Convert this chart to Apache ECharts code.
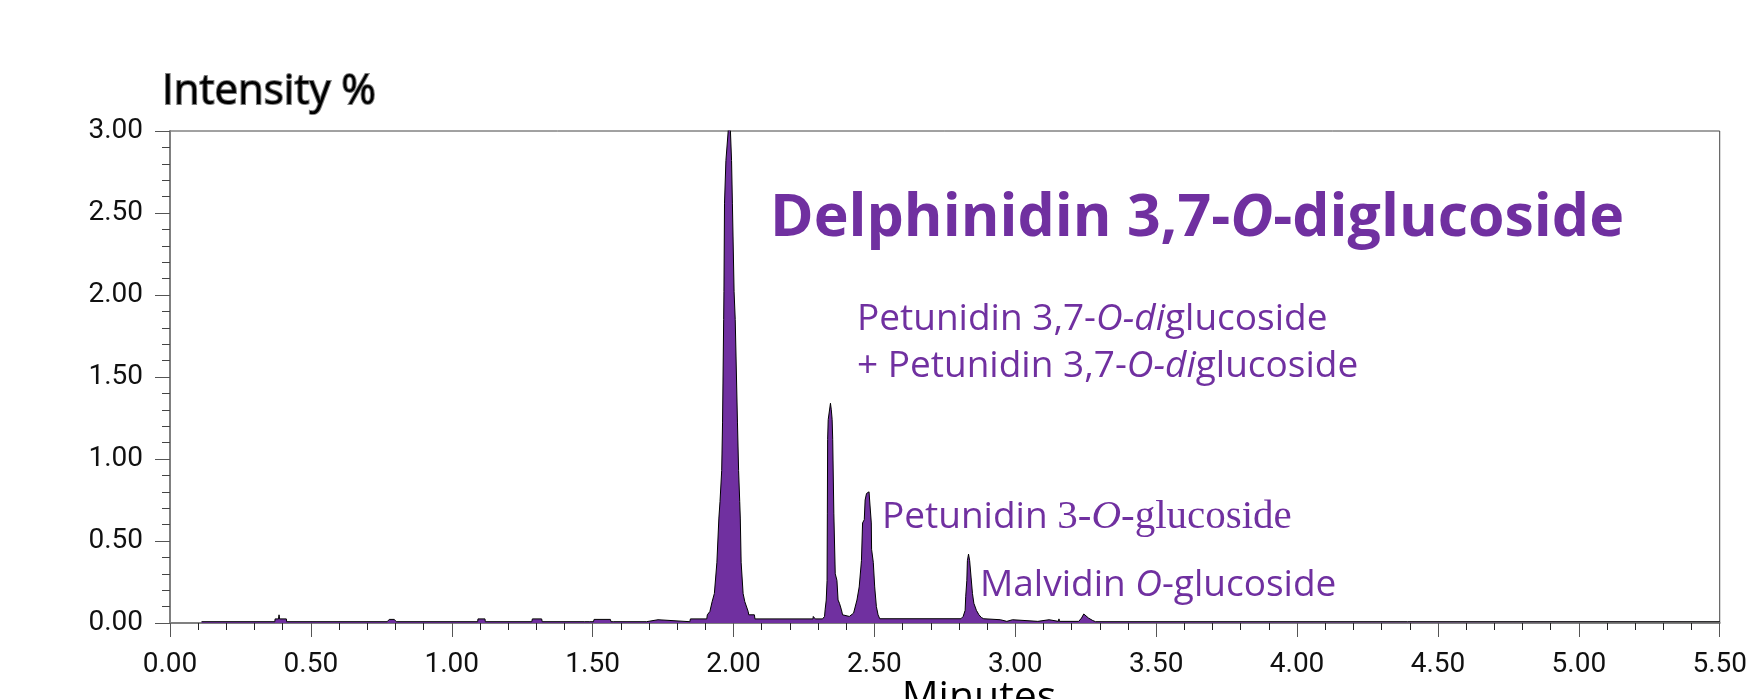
<!DOCTYPE html>
<html>
<head>
<meta charset="utf-8">
<title>Delphinidin 3,7-O-diglucoside chromatogram</title>
<script src="https://cdn.jsdelivr.net/npm/echarts@6.0.0/dist/echarts.min.js"></script>
<style>
  html, body { margin: 0; padding: 0; background: #fff; }
  #main { width: 1750px; height: 699px; }
</style>
</head>
<body>
<div id="main"></div>
<script>
// chromatogram trace: minutes / intensity %
const retentionTime = [
  0.112, 0.372, 0.373, 0.385, 0.387, 0.389, 0.413, 0.414,
  0.771, 0.778, 0.796, 0.803,
  1.092, 1.093, 1.118, 1.119, 1.123, 1.125,
  1.284, 1.286, 1.319, 1.321,
  1.472, 1.473, 1.475, 1.490, 1.491, 1.493, 1.503, 1.505, 1.563, 1.565, 1.570, 1.571, 1.573,
  1.691, 1.695, 1.732, 1.735,
  1.845, 1.847, 1.905, 1.907, 1.916, 1.924, 1.932, 1.941, 1.948, 1.952, 1.958, 1.961,
  1.965, 1.966, 1.968, 1.973, 1.982, 1.987, 1.989, 1.993, 1.996, 2.002, 2.006, 2.014,
  2.018, 2.022, 2.024, 2.027, 2.034, 2.040, 2.052, 2.054, 2.074, 2.076,
  2.282, 2.283, 2.288, 2.290, 2.316,
  2.323, 2.325, 2.329, 2.332, 2.333, 2.334, 2.336, 2.344, 2.347, 2.350, 2.352, 2.356,
  2.361, 2.367, 2.371, 2.376, 2.383, 2.387, 2.391, 2.411, 2.415, 2.426,
  2.438, 2.446, 2.454, 2.458, 2.464, 2.467, 2.472, 2.476, 2.481, 2.483, 2.489, 2.490,
  2.496, 2.501, 2.507, 2.513, 2.519, 2.525,
  2.807, 2.815, 2.822, 2.824, 2.828, 2.830, 2.834, 2.838, 2.843, 2.848, 2.853, 2.862,
  2.871, 2.880, 2.888, 2.947, 2.950,
  2.970, 2.972, 2.990, 2.992, 3.080, 3.082, 3.120, 3.122, 3.153, 3.155, 3.157,
  3.225, 3.235, 3.243, 3.250, 3.260, 3.275, 3.285, 5.500
];
const intensity = [
  0.008, 0.008, 0.025, 0.025, 0.050, 0.025, 0.025, 0.008,
  0.008, 0.022, 0.022, 0.008,
  0.008, 0.025, 0.025, 0.008, 0.020, 0.008,
  0.008, 0.025, 0.025, 0.008,
  0.008, 0.020, 0.008, 0.008, 0.020, 0.008, 0.008, 0.022, 0.022, 0.008, 0.008, 0.020, 0.008,
  0.008, 0.020, 0.020, 0.008,
  0.008, 0.025, 0.025, 0.050, 0.070, 0.130, 0.180, 0.370, 0.640, 0.740, 0.930, 1.220,
  1.850, 2.020, 2.560, 2.820, 3.020, 3.020, 3.000, 2.820, 2.560, 2.020, 1.850, 1.220,
  0.930, 0.740, 0.640, 0.370, 0.180, 0.130, 0.070, 0.050, 0.050, 0.025,
  0.025, 0.040, 0.040, 0.025, 0.025,
  0.040, 0.080, 0.140, 0.260, 0.670, 1.120, 1.240, 1.340, 1.300, 1.240, 1.120, 0.670,
  0.300, 0.260, 0.140, 0.120, 0.080, 0.050, 0.040, 0.040, 0.050, 0.060,
  0.140, 0.220, 0.380, 0.610, 0.630, 0.750, 0.790, 0.800, 0.800, 0.750, 0.610, 0.450,
  0.370, 0.220, 0.100, 0.050, 0.026, 0.020,
  0.026, 0.040, 0.077, 0.160, 0.260, 0.380, 0.420, 0.380, 0.280, 0.180, 0.120, 0.077,
  0.050, 0.033, 0.026, 0.020, 0.010,
  0.010, 0.020, 0.020, 0.010, 0.010, 0.020, 0.020, 0.010, 0.010, 0.025, 0.010,
  0.010, 0.030, 0.055, 0.050, 0.030, 0.015, 0.008, 0.008
];

const xTicks = { min: 0, max: 5.5, step: 0.5 };
const yTicks = { min: 0, max: 3, step: 0.5 };

const purple = '#7030a0';
const trace = retentionTime.map((t, i) => [t, intensity[i]]);

const dom = document.getElementById("main");
const myChart = echarts.init(dom);
let option = null;
option = {
  animation: false,
  grid: {
    left: 170,
    right: 15,
    top: 131,
    bottom: 76,
    show: true,
    borderColor: '#444',
    borderWidth: 1
  },
  xAxis: {
    type: 'value',
    min: xTicks.min,
    max: xTicks.max,
    interval: xTicks.step,
    axisLine: { onZero: false, lineStyle: { color: '#808080', width: 2 } },
    axisTick: { length: 14, lineStyle: { color: '#555' } },
    minorTick: { show: true, splitNumber: 5, length: 7, lineStyle: { color: '#222' } },
    splitLine: { show: false },
    axisLabel: {
      margin: 28,
      color: '#111',
      fontFamily: 'Roboto',
      fontSize: 28,
      showMaxLabel: true,
      formatter: v => v.toFixed(2)
    }
  },
  yAxis: {
    type: 'value',
    min: yTicks.min,
    max: yTicks.max,
    interval: yTicks.step,
    axisLine: { show: true, lineStyle: { color: '#808080', width: 2 } },
    axisTick: { show: true, length: 15, lineStyle: { color: '#555' } },
    minorTick: { show: true, splitNumber: 5, length: 8, lineStyle: { color: '#444' } },
    splitLine: { show: false },
    axisLabel: {
      margin: 27,
      color: '#111',
      fontFamily: 'Roboto',
      fontSize: 28,
      formatter: v => v.toFixed(2)
    }
  },
  series: [
    {
      name: 'Intensity',
      type: 'line',
      data: trace,
      showSymbol: false,
      lineStyle: { color: '#000', width: 1 },
      areaStyle: { color: purple, opacity: 1 }
    }
  ],
  graphic: [
    {
      type: 'text', x: 162, y: 92,
      style: { text: 'Intensity %', font: '42px "Open Sans"', fill: '#000', verticalAlign: 'middle', align: 'left' }
    },
    {
      type: 'text', x: 979, y: 698,
      style: { text: 'Minutes', font: '41px "Open Sans"', fill: '#000', verticalAlign: 'middle', align: 'center' }
    },
    {
      type: 'text', x: 770, y: 219,
      style: {
        text: '{b|Delphinidin 3,7-}{bi|O}{b|-diglucoside}',
        verticalAlign: 'middle', align: 'left',
        rich: {
          b: { font: 'bold 59px "Open Sans"', fill: purple },
          bi: { font: 'italic bold 59px "Open Sans"', fill: purple }
        }
      }
    },
    {
      type: 'text', x: 857, y: 319,
      style: {
        text: '{r|Petunidin 3,7-}{i|O-di}{r|glucoside}',
        verticalAlign: 'middle', align: 'left',
        rich: {
          r: { font: '37px "Open Sans"', fill: purple },
          i: { font: 'italic 37px "Open Sans"', fill: purple }
        }
      }
    },
    {
      type: 'text', x: 857, y: 366,
      style: {
        text: '{r|+ Petunidin 3,7-}{i|O-di}{r|glucoside}',
        verticalAlign: 'middle', align: 'left',
        rich: {
          r: { font: '37px "Open Sans"', fill: purple },
          i: { font: 'italic 37px "Open Sans"', fill: purple }
        }
      }
    },
    {
      type: 'text', x: 882, y: 517,
      style: {
        text: '{r|Petunidin }{s|3-}{si|O}{s|-glucoside}',
        verticalAlign: 'middle', align: 'left',
        rich: {
          r: { font: '37px "Open Sans"', fill: purple },
          s: { font: '41px "Liberation Serif"', fill: purple },
          si: { font: 'italic 41px "Liberation Serif"', fill: purple }
        }
      }
    },
    {
      type: 'text', x: 980, y: 585,
      style: {
        text: '{r|Malvidin }{i|O}{r|-glucoside}',
        verticalAlign: 'middle', align: 'left',
        rich: {
          r: { font: '37px "Open Sans"', fill: purple },
          i: { font: 'italic 37px "Open Sans"', fill: purple }
        }
      }
    }
  ]
};
if (option && typeof option === "object") {
  myChart.setOption(option, true);
  // the x axis line runs on past the frame to the page edge
  const end = myChart.convertToPixel({ gridIndex: 0 }, [xTicks.max, 0]);
  myChart.setOption({
    graphic: [{
      type: 'line',
      shape: { x1: end[0], y1: end[1], x2: 1750, y2: end[1] },
      style: { stroke: '#808080', lineWidth: 2 }
    }]
  });
}
</script>
</body>
</html>
